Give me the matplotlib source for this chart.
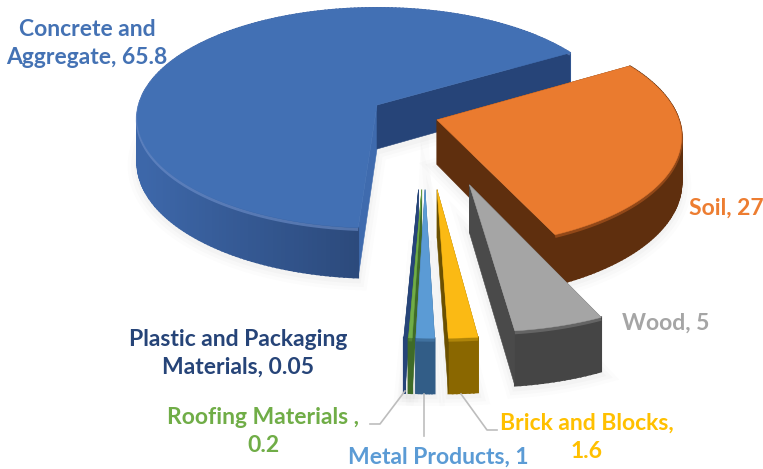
import numpy as np
import matplotlib
matplotlib.use("Agg")
from matplotlib import pyplot as plt
from matplotlib.colors import to_rgb
from matplotlib.patches import Polygon

# share of construction waste per material
materials = ["Concrete and\nAggregate", "Soil", "Wood", "Brick and Blocks",
             "Metal Products", "Roofing Materials ", "Plastic and Packaging\nMaterials"]
shares = [65.8, 27, 5, 1.6, 1, 0.2, 0.05]
share_text = ["65.8", "27", "5", "1.6", "1", "0.2", "0.05"]

top_colors = ["#4270B4", "#EA7B2F", "#A5A5A5", "#FBBA14", "#5B9BD5", "#70AD47", "#264478"]
side_colors = ["#3F6BAE", "#5F2F0E", "#454545", "#8A6700", "#325D87", "#3F6B28", "#264478"]
cut_colors = ["#264478", "#5F2F0E", "#4A4A4A", "#6B5000", "#325D87", "#3F6B28", "#264478"]
bevel_colors = ["#6F90CB", "#B5591F", "#7A7A7A", "#C99A10", "#4A7FB0", "#5B8F3A", "#264478"]
label_colors = ["#4472B4", "#ED7D31", "#A5A5A5", "#FFC000", "#5B9BD5", "#70AD47", "#264478"]

# how far each slice is pulled out of the pie (right, towards the viewer)
pull = [(0, 0), (59, -32), (85, -161), (55, -170), (44, -170), (41, -170), (38, -170)]
# back to front; the plastic sliver sits behind the roofing one
draw_order = [0, 1, 2, 3, 6, 5, 4]

radius = 238
height = 44
first_angle = 266   # clockwise from here
tilt = 0.456
persp = 0.000496
cx, cy = 377, 105


def project(x, y, z=0.0):
    s = 1 / (1 + persp * y)
    return cx + x * s, cy - y * s * tilt + z * s


def wedge_points(t0, t1, offset):
    n = max(int(abs(t1 - t0)), 8)
    t = np.radians(np.linspace(t0, t1, n))
    return t, offset[0] + radius * np.cos(t), offset[1] + radius * np.sin(t)


def mix(c1, c2, f):
    a, b = np.array(to_rgb(c1)), np.array(to_rgb(c2))
    return tuple(a + (b - a) * f)


def quad(ax, pts, color, z, lw=0.4):
    ax.add_patch(Polygon(pts, closed=True, facecolor=color, edgecolor=color,
                         linewidth=lw, zorder=z))


fig = plt.figure(figsize=(7.63, 4.69), dpi=100)
ax = fig.add_axes([0, 0, 1, 1])
ax.set_xlim(0, 763)
ax.set_ylim(469, 0)
ax.axis("off")

sweeps = np.array(shares) / sum(shares) * 360
starts = first_angle - np.concatenate(([0], np.cumsum(sweeps)[:-1]))

for rank, i in enumerate(draw_order):
    t_a, t_b = starts[i], starts[i] - sweeps[i]
    t, xs, ys = wedge_points(t_a, t_b, pull[i])
    ox, oy = pull[i]
    z = 10 + rank * 10

    # soft shadow under the slice
    sx, sy = project(np.r_[ox, xs], np.r_[oy, ys], height)
    for lw, a in [(14, 0.012), (9, 0.016), (4, 0.02)]:
        ax.add_patch(Polygon(np.c_[sx, sy + 3], closed=True, facecolor="none",
                             edgecolor=(0, 0, 0, a), linewidth=lw, zorder=1))

    # cut face on the leading side
    quad(ax, [project(ox, oy), project(xs[0], ys[0]), project(xs[0], ys[0], height),
              project(ox, oy, height)], side_colors[i], z)

    # outer rim, split up so the shade can run along it
    for j in range(len(t) - 1):
        rim = side_colors[i]
        if i == 0:
            f = np.clip((np.degrees(t[j]) - 200) / 66, 0, 1)
            rim = mix("#3D67A9", "#2C4A7C", f ** 1.5)
        quad(ax, [project(xs[j], ys[j]), project(xs[j + 1], ys[j + 1]),
                  project(xs[j + 1], ys[j + 1], height), project(xs[j], ys[j], height)],
             rim, z + 1, lw=1.3)

    # cut face on the trailing side covers the hidden part of the rim
    quad(ax, [project(ox, oy), project(xs[-1], ys[-1]), project(xs[-1], ys[-1], height),
              project(ox, oy, height)], cut_colors[i], z + 2)

    # lit edge along the front of the top
    ex, ey = project(xs, ys, 1.5)
    ax.plot(ex, ey, color=bevel_colors[i], lw=2.2, alpha=0.6, zorder=z + 3,
            solid_capstyle="butt")

    tx, ty = project(np.r_[ox, xs], np.r_[oy, ys])
    ax.add_patch(Polygon(np.c_[tx, ty], closed=True, facecolor=top_colors[i],
                         edgecolor=top_colors[i], linewidth=0.4, zorder=z + 4))

# leader lines for the thin slices
leader = "#BDBDBD"
ax.plot([405, 380, 370], [391, 424, 424], color=leader, lw=1.2, zorder=90)
ax.plot([424, 424], [394, 436], color=leader, lw=1.2, zorder=90)
ax.plot([461, 487, 497], [394, 430, 430], color=leader, lw=1.2, zorder=90)

# each label line is its own text, centred on the label's x
label_pos = [(87, 43), (726, 208), (666, 323), (587, 437), (438, 457), (263, 432), (238, 353)]
line_gap = 28
for i, name in enumerate(materials):
    if name.startswith("Brick") or name.startswith("Roofing"):
        text = f"{name},\n{share_text[i]}"
    else:
        text = f"{name}, {share_text[i]}"
    lines = text.split("\n")
    for k, line in enumerate(lines):
        y = label_pos[i][1] + (k - (len(lines) - 1) / 2) * line_gap
        ax.text(label_pos[i][0], y, line, color=label_colors[i], family="Lato",
                fontweight="bold", fontsize=16.5, ha="center", va="center", zorder=100)

plt.savefig("out.png", dpi=100)
